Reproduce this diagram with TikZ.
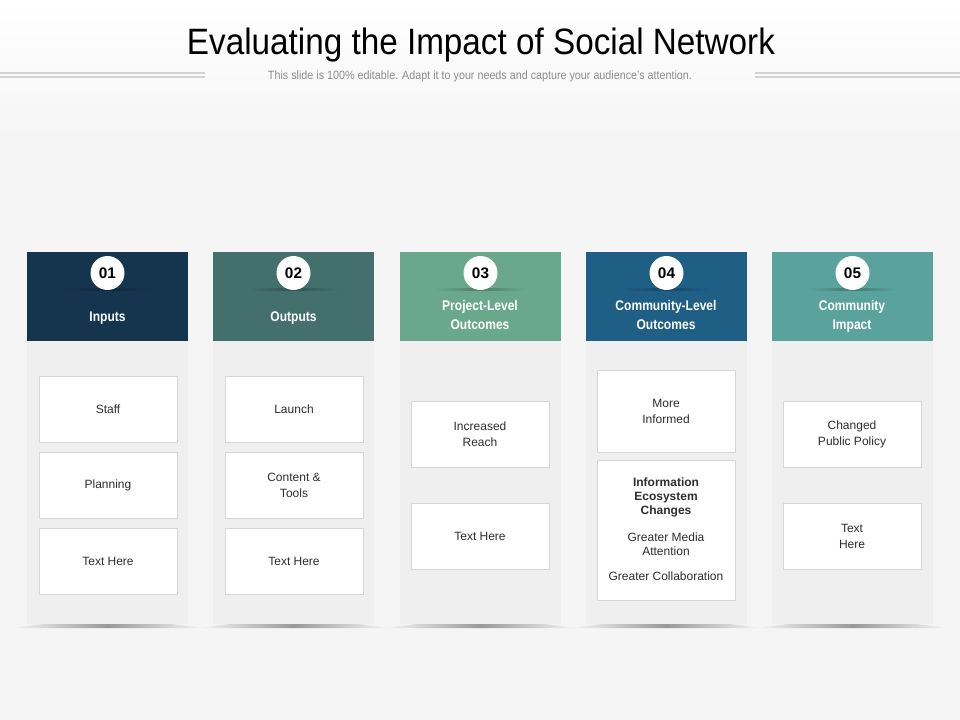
\documentclass[tikz,border=0pt]{standalone}
\usepackage{fontspec}
\setmainfont{Liberation Sans}
\usepackage{graphicx}
\definecolor{bgc}{HTML}{F5F5F6}
\definecolor{panelc}{HTML}{EFEFEF}
\definecolor{cA}{HTML}{14354D}
\definecolor{cB}{HTML}{43706C}
\definecolor{cC}{HTML}{69A88A}
\definecolor{cD}{HTML}{1F5F86}
\definecolor{cE}{HTML}{5AA39D}
\definecolor{boxline}{HTML}{D6D6D6}
\definecolor{txt}{HTML}{2E2E2E}
\definecolor{subc}{HTML}{8C8C8C}
\definecolor{rulec}{HTML}{D2D2D2}
\newcommand\hdtext[1]{\scalebox{0.86}[1]{\begin{tabular}{@{}c@{}}#1\end{tabular}}}
\tikzset{
  px/.style={x=0.75pt,y=-0.75pt},
  panel/.style={fill=panelc, draw=none},
  numcirc/.style={circle, fill=white, draw=none, minimum size=25.5pt, inner sep=0pt},
  numtext/.style={font=\fontsize{11.5}{12}\selectfont\bfseries, text=black, inner sep=0pt},
  hdlabel/.style={text=white, font=\fontsize{10.5}{14.25}\selectfont\bfseries, inner sep=0pt},
  itembox/.style={draw=boxline, line width=0.75pt, fill=white, minimum width=103.5pt, inner sep=0pt,
     font=\fontsize{9}{12}\selectfont, text=txt, align=center},
  itemtext/.style={font=\fontsize{9}{10.5}\selectfont, text=txt, align=center, inner sep=0pt},
}
\begin{document}
\begin{tikzpicture}[px]
\useasboundingbox (0,0) rectangle (960,720);
\fill[bgc] (0,0) rectangle (960,720);
\shade[top color=white, bottom color=bgc] (0,0) rectangle (960,140);
% title
\node[inner sep=0pt, font=\fontsize{27.5}{30}\selectfont, text=black] (title) at (481,45) {\resizebox{441pt}{\height}{Evaluating the Impact of Social Network}};
\node[inner sep=0pt, font=\fontsize{9}{10}\selectfont, text=subc] (sub) at (480,76) {\resizebox{318pt}{\height}{This slide is 100\% editable. Adapt it to your needs and capture your audience's attention.}};
\draw[rulec, line width=1.6pt] (0,73) -- (205,73);
\draw[rulec, line width=1.6pt] (0,77) -- (205,77);
\draw[rulec, line width=1.6pt] (755,73) -- (960,73);
\draw[rulec, line width=1.6pt] (755,77) -- (960,77);

% panels, shadows, headers
\foreach \x/\c/\n in {27/cA/1,213/cB/2,400/cC/3,586/cD/4,772/cE/5}{
  \shade[left color=bgc, right color=bgc, middle color=black!40]
    (\x-14,628) .. controls (\x+40,619) and (\x+121,619) .. (\x+175,628) -- cycle;
  \fill[panel] (\x,341) rectangle (\x+161,624);
  \fill[\c] (\x,252) rectangle (\x+161,341);
  \shade[left color=\c, right color=\c, middle color=black!25!\c] (\x+35,289) rectangle (\x+126,290.3);
  \begin{scope}
    \clip (\x,252) rectangle (\x+161,289.3);
    \node[numcirc] (c\n) at (\x+80.5,273) {};
  \end{scope}
}
\node[numtext] (n1) at (c1) {01};
\node[numtext] (n2) at (c2) {02};
\node[numtext] (n3) at (c3) {03};
\node[numtext] (n4) at (c4) {04};
\node[numtext] (n5) at (c5) {05};

\node[hdlabel] (h1) at (107.5,317.5) {\hdtext{Inputs}};
\node[hdlabel] (h2) at (293.5,317.5) {\hdtext{Outputs}};
\node[hdlabel] (h3) at (480,316.5) {\hdtext{Project-Level\\Outcomes}};
\node[hdlabel] (h4) at (666,316.5) {\hdtext{Community-Level\\Outcomes}};
\node[hdlabel] (h5) at (852,316.5) {\hdtext{Community\\Impact}};

% column 1
\node[itembox, minimum height=50pt] (b11) at (108,409.5) {Staff};
\node[itembox, minimum height=49.5pt] (b12) at (108,485) {Planning};
\node[itembox, minimum height=49.5pt] (b13) at (108,561) {Text Here};
% column 2
\node[itembox, minimum height=50pt] (b21) at (294,409.5) {Launch};
\node[itembox, minimum height=49.5pt] (b22) at (294,485) {Content \&\\Tools};
\node[itembox, minimum height=49.5pt] (b23) at (294,561) {Text Here};
% column 3
\node[itembox, minimum height=50pt] (b31) at (480,434.5) {Increased\\Reach};
\node[itembox, minimum height=49.5pt] (b32) at (480,536) {Text Here};
% column 4
\node[itembox, minimum height=61.5pt] (b41) at (666,411) {More\\Informed};
\node[itembox, minimum height=105pt] (b42) at (666,530) {};
\node[itemtext, font=\fontsize{9}{10.5}\selectfont\bfseries] (t421) at (666,497.5) {Information\\Ecosystem\\Changes};
\node[itemtext] (t422) at (666,544.5) {Greater Media\\Attention};
\node[itemtext] (t423) at (666,576.5) {Greater Collaboration};
% column 5
\node[itembox, minimum height=50pt] (b51) at (852,434.5) {Changed\\Public Policy};
\node[itembox, minimum height=49.5pt] (b52) at (852,536) {Text\\Here};
\end{tikzpicture}
\end{document}
